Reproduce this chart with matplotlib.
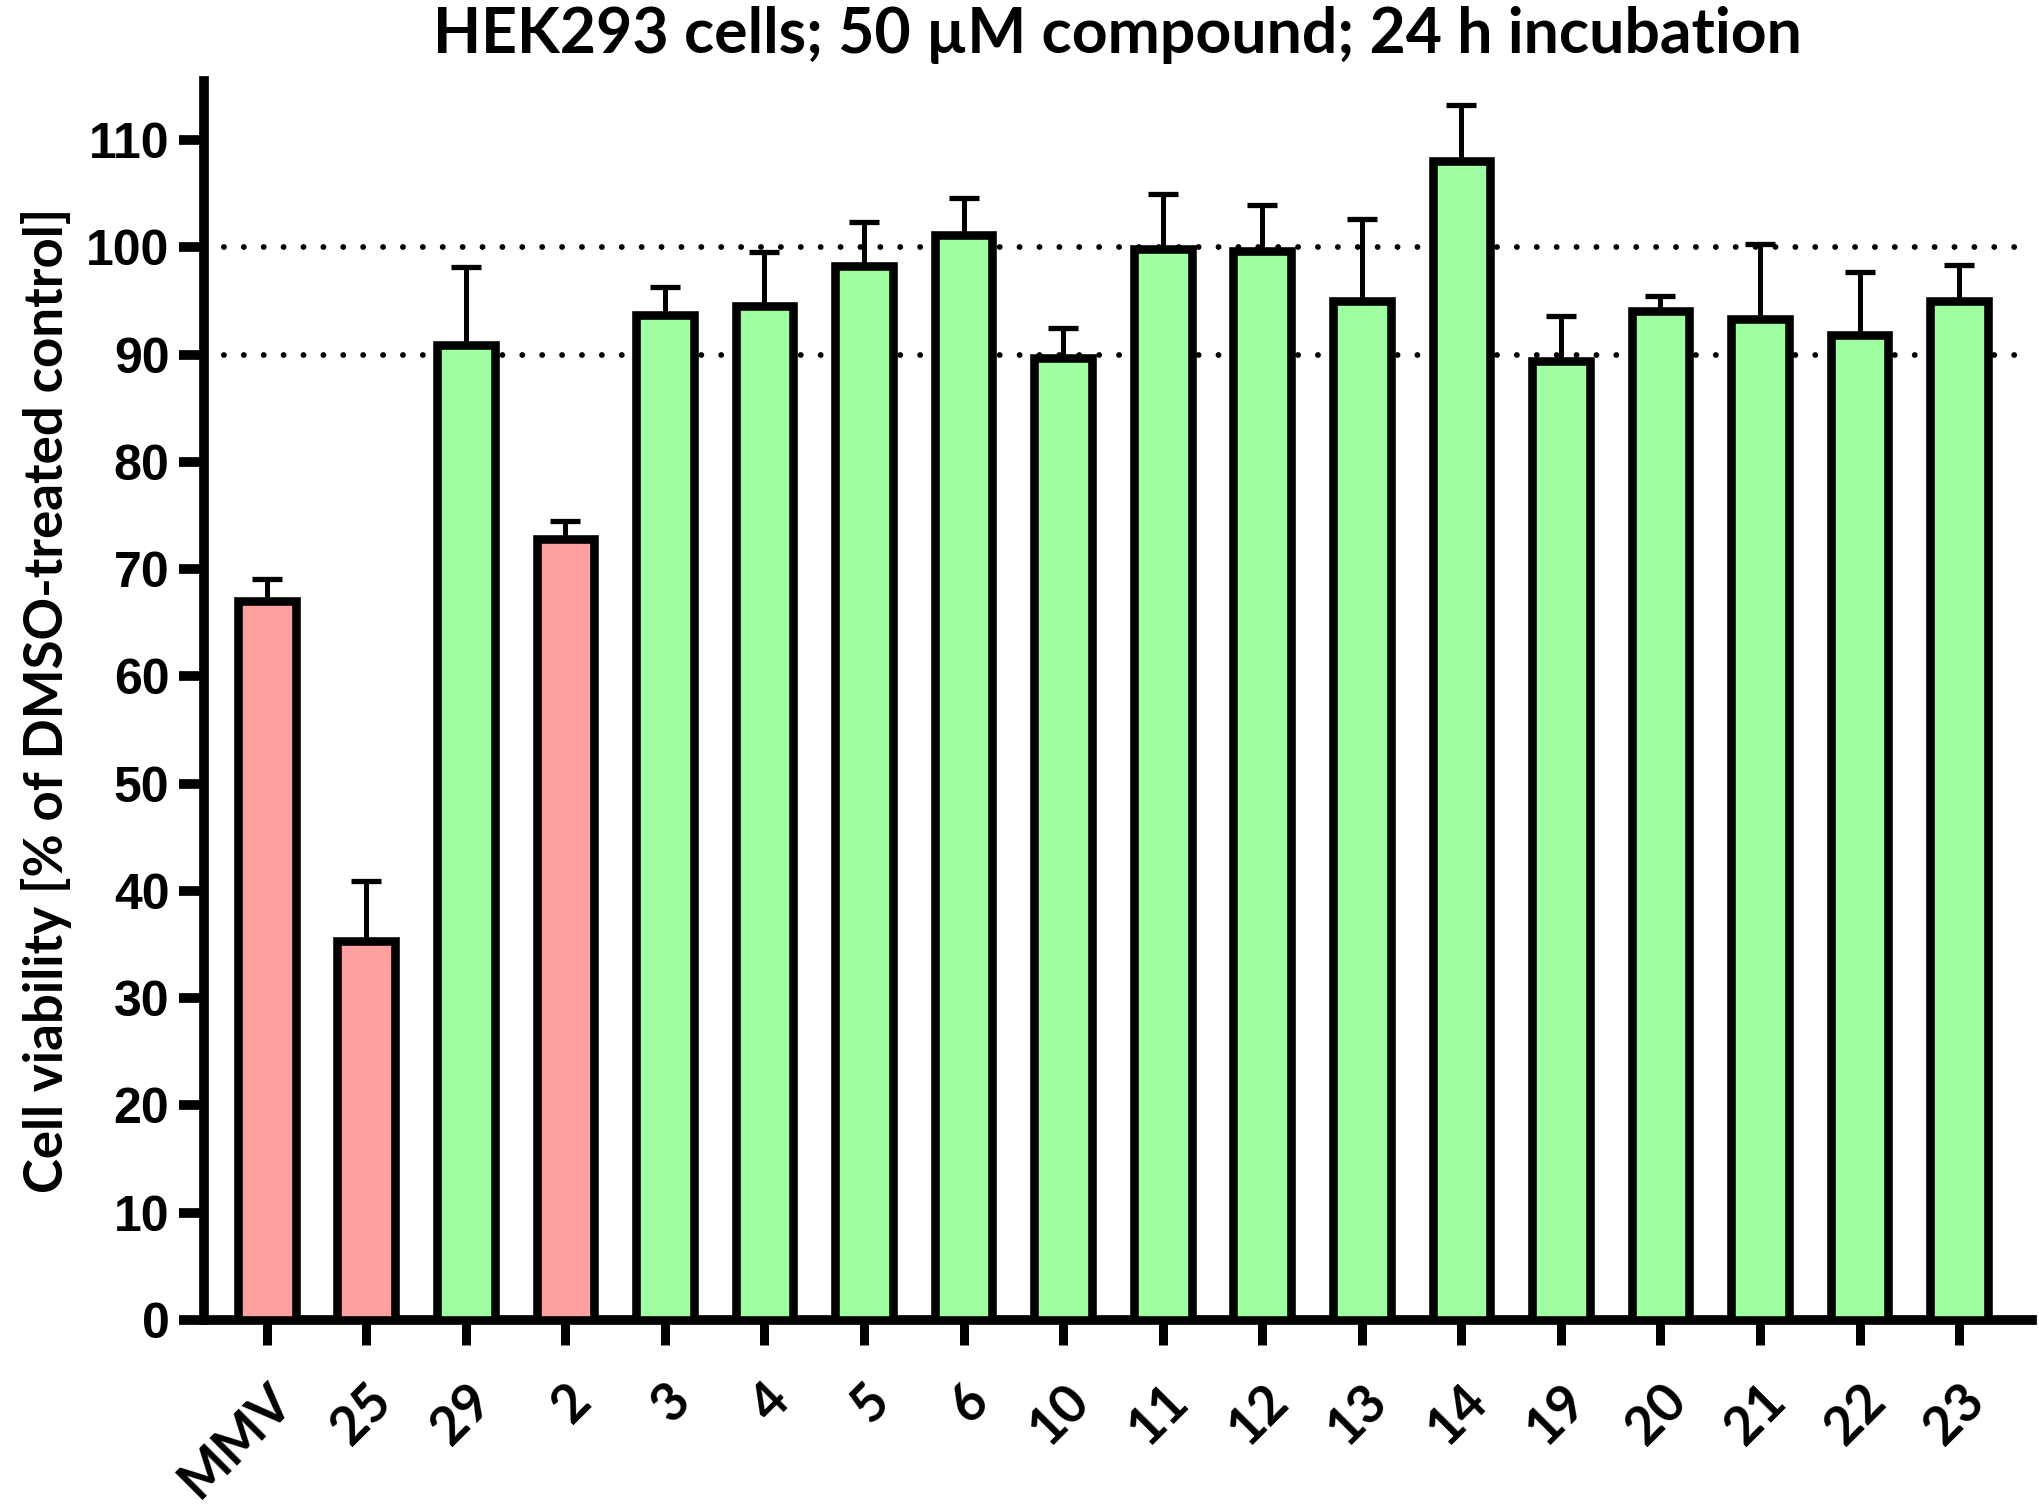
import numpy as np
import matplotlib
matplotlib.use("Agg")
import matplotlib.pyplot as plt
from matplotlib.transforms import ScaledTranslation

# ── data ─────────────────────────────────────────────────────────────────────
compounds = ["MMV", "25", "29", "2", "3", "4", "5", "6", "10", "11",
             "12", "13", "14", "19", "20", "21", "22", "23"]
viability = [67.0, 35.3, 90.9, 72.8, 93.7, 94.5, 98.3, 101.2, 89.7, 99.9,
             99.7, 95.0, 108.1, 89.4, 94.1, 93.3, 91.8, 95.0]
err_upper = [2.1, 5.6, 7.3, 1.7, 2.6, 5.1, 4.1, 3.4, 2.8, 5.1,
             4.3, 7.7, 5.2, 4.2, 1.4, 7.0, 5.9, 3.4]
toxic = ["MMV", "25", "2"]
thresholds = [100, 90]

RED = "#FFA0A0"
GREEN = "#A0FFA0"

# ── figure ───────────────────────────────────────────────────────────────────
fig = plt.figure(figsize=(20.4, 15.05), dpi=100)
ax = fig.add_axes([0.1, 0.123, 0.896, 0.823])

x = np.arange(len(compounds))
colors = [RED if c in toxic else GREEN for c in compounds]

for y in thresholds:
    ax.axhline(y, color="black", lw=4.2, linestyle=(0, (0.01, 3.4)),
               dash_capstyle="round", zorder=1)

ax.errorbar(x, viability, yerr=[np.zeros(len(x)), err_upper], fmt="none",
            ecolor="black", elinewidth=3.6, capsize=11, capthick=3.8,
            zorder=2)
ax.bar(x, viability, width=0.58, color=colors, edgecolor="black",
       linewidth=6.2, zorder=3)

ax.set_xlim(-0.63, len(x) - 1 + 0.73)
ax.set_ylim(0, 115.5)
ax.set_yticks(np.arange(0, 111, 10))
ax.set_xticks(x)
ax.set_xticklabels(compounds, rotation=45, ha="right", rotation_mode="anchor",
                   fontfamily="Lato", fontweight="bold", fontsize=38)
shift = ScaledTranslation(0.10, 0, fig.dpi_scale_trans)
for lab in ax.get_xticklabels():
    lab.set_transform(lab.get_transform() + shift)
for lab in ax.get_yticklabels():
    lab.set_fontfamily("Liberation Sans")
    lab.set_fontweight("bold")
    lab.set_fontsize(36)

for side in ["top", "right"]:
    ax.spines[side].set_visible(False)
ax.spines["left"].set_linewidth(7)
ax.spines["bottom"].set_linewidth(7)
ax.tick_params(axis="y", length=18, width=7, pad=7)
ax.tick_params(axis="x", length=18, width=6.5, pad=22)

ax.set_ylabel("Cell viability [% of DMSO-treated control]", fontfamily="Lato",
              fontweight="bold", fontsize=38, labelpad=10)
ax.set_title("HEK293 cells; 50 µM compound; 24 h incubation", fontfamily="Lato",
             fontweight="bold", fontsize=45, pad=20)

fig.savefig("out.png", dpi=100, facecolor="white")
